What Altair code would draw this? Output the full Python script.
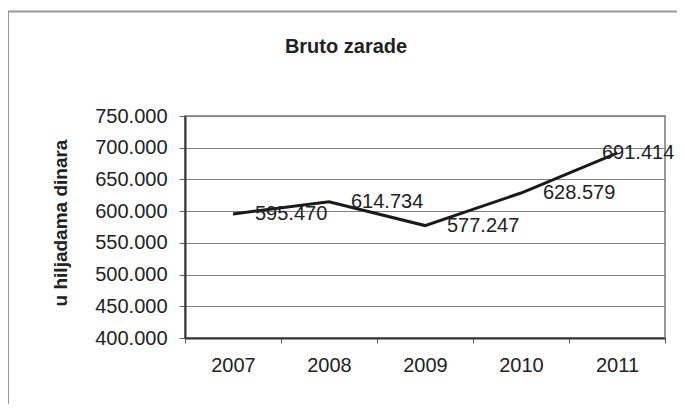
import altair as alt
import pandas as pd

years = ["2007", "2008", "2009", "2010", "2011"]
values = [595470, 614734, 577247, 628579, 691414]
y_ticks = [400000, 450000, 500000, 550000, 600000, 650000, 700000, 750000]
title_text = "Bruto zarade"
y_title = "u hiljadama dinara"

df = pd.DataFrame({"year": years, "value": values})
FONT = "Liberation Sans"
FMT = "replace(format(datum.value, ','), ',', '.')"

x_enc = alt.X(
    "year:N",
    sort=years,
    scale=alt.Scale(type="band", paddingInner=0, paddingOuter=0),
    axis=alt.Axis(
        title=None, labelAngle=0, labelFontSize=20, labelFont=FONT,
        labelColor="#222", labelPadding=12, tickBand="extent", tickSize=5,
        tickColor="#555", domainColor="#333", domainWidth=2, grid=False,
    ),
)
y_enc = alt.Y(
    "value:Q",
    scale=alt.Scale(domain=[400000, 750000], nice=False, zero=False),
    axis=alt.Axis(
        values=y_ticks, labelExpr=FMT, labelFontSize=20, labelFont=FONT,
        labelColor="#222", labelPadding=12, tickSize=6, tickColor="#666",
        domainColor="#333", domainWidth=2, grid=True, gridColor="#808080",
        gridWidth=1, title=y_title, titleX=-118.5, titleY=106.5,
        titleAngle=270, titleAlign="center", titleBaseline="alphabetic",
        titleFont=FONT, titleFontSize=19, titleFontWeight="bold",
        titleColor="#222",
    ),
)

frame = alt.Chart(pd.DataFrame({"a": [0]})).mark_rect(
    fillOpacity=0, stroke="#999", strokeWidth=2
).encode(
    x=alt.value(-177), x2=alt.value(520), y=alt.value(-104.5), y2=alt.value(320)
)

title = alt.Chart(pd.DataFrame({"t": [title_text]})).mark_text(
    font=FONT, fontSize=20, fontWeight="bold", color="#222",
    align="center", baseline="alphabetic",
).encode(text="t:N", x=alt.value(161), y=alt.value(-63))

base = alt.Chart(df).encode(x=x_enc, y=y_enc)
line = base.mark_line(color="#1a1a1a", strokeWidth=3)

last = years[-1]
labels = base.transform_filter(f"datum.year != '{last}'").transform_calculate(
    lbl=FMT
).mark_text(
    font=FONT, fontSize=20, color="#222", align="left", baseline="middle", dx=22
).encode(text="lbl:N")
labels_last = base.transform_filter(f"datum.year == '{last}'").transform_calculate(
    lbl=FMT
).mark_text(
    font=FONT, fontSize=20, color="#222", align="left", baseline="middle", dx=-15
).encode(text="lbl:N")

chart = alt.layer(frame, title, line, labels, labels_last).properties(
    width=480,
    height=222,
    autosize=alt.AutoSizeParams(type="none"),
    padding={"left": 177, "top": 108, "right": 12, "bottom": 66},
    background="white",
).configure_view(stroke="#999", strokeWidth=2)

chart.save("out.html", embed_options={"renderer": "svg", "actions": False})
